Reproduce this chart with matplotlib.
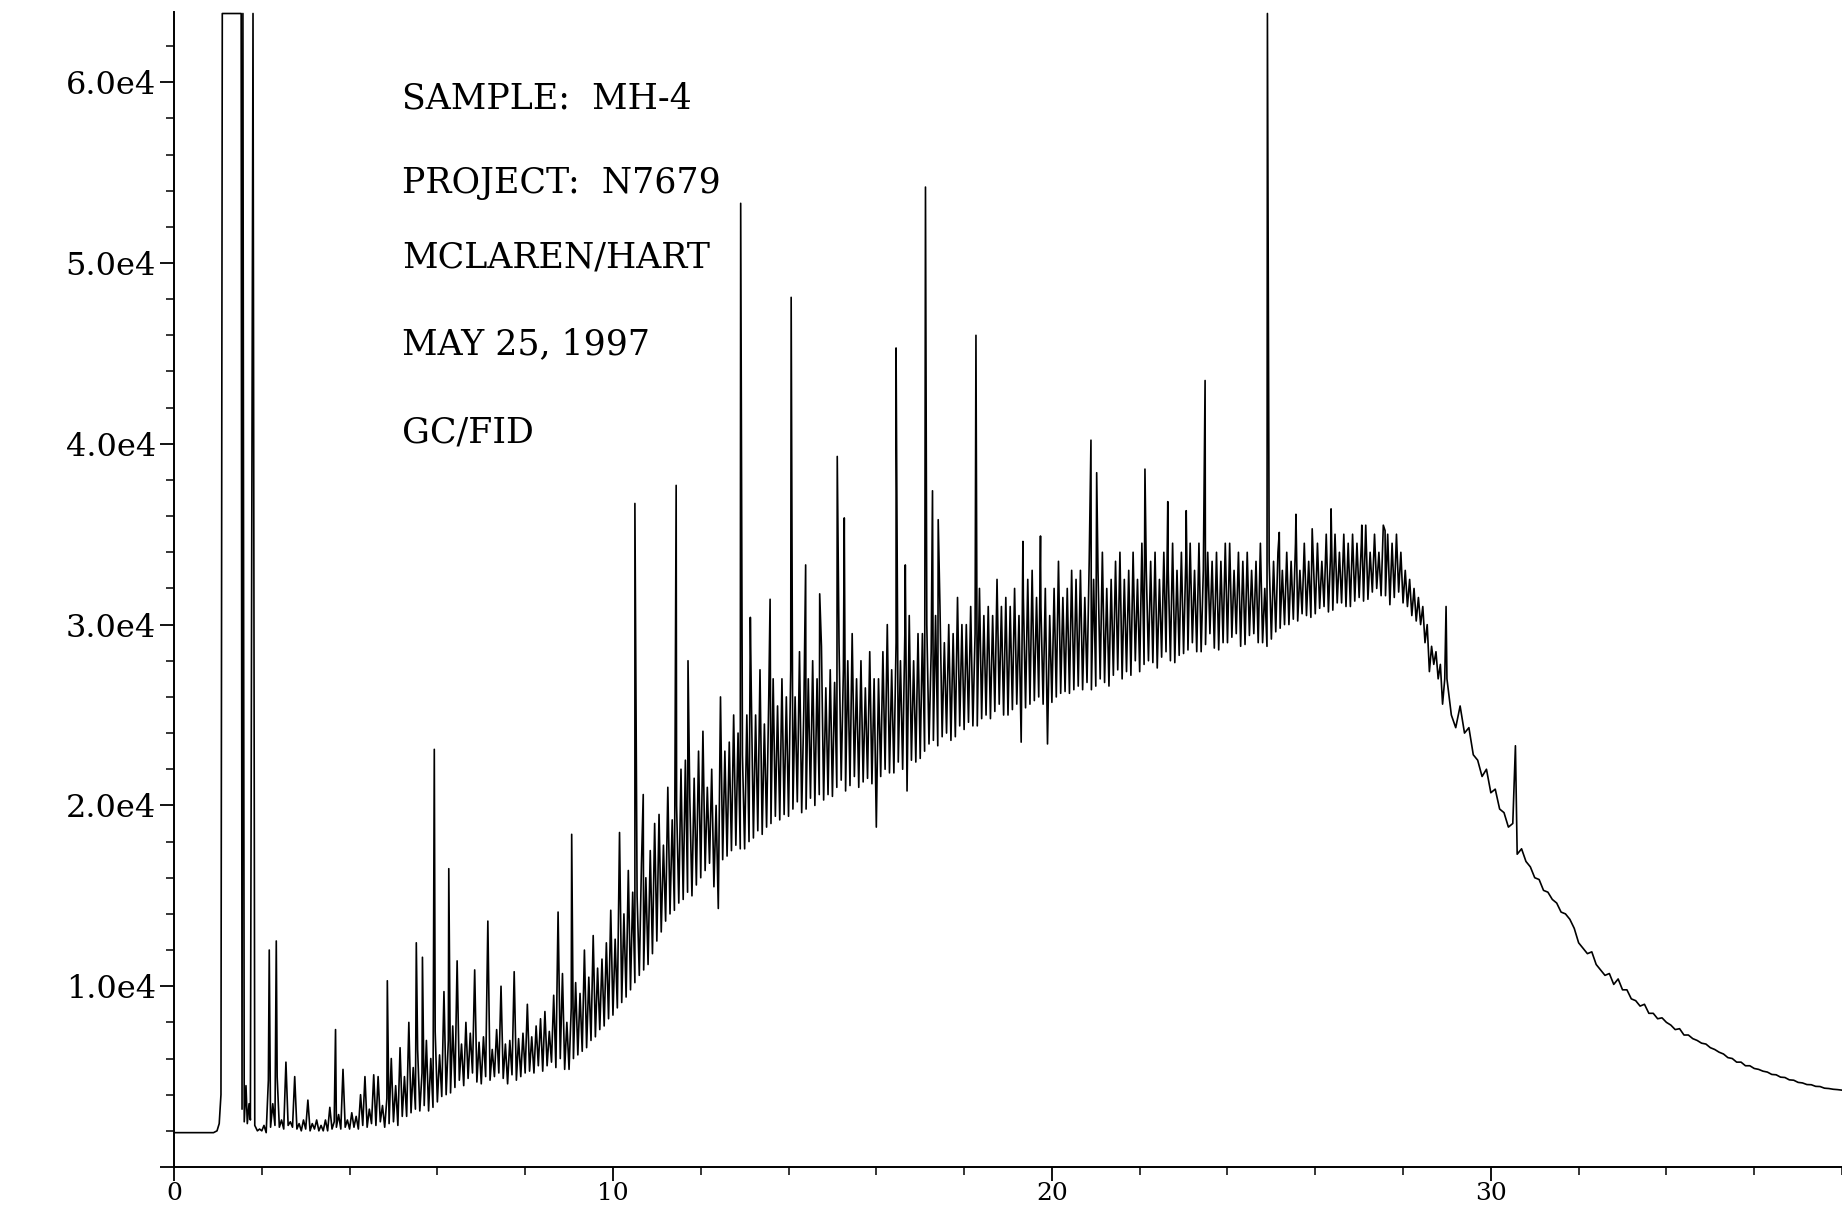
import numpy as np
import matplotlib
matplotlib.use('Agg')
import matplotlib.pyplot as plt
from matplotlib.ticker import MultipleLocator, FuncFormatter

# solvent front (minutes, response in 1000 counts)
solvent_t = [0.0, 0.90, 0.98, 1.03, 1.07, 1.10, 1.53, 1.55, 1.57, 1.60,
             1.64, 1.67, 1.71, 1.74, 1.80, 1.84]
solvent_y = [1.9, 1.9, 2.0, 2.4, 4.0, 63.8, 63.8, 3.2, 63.8, 2.5,
             4.5, 2.4, 3.5, 2.6, 63.8, 2.3]

# busy part of the trace, 1.9 - 28.95 min:
# valley readings at 1.9, 2.0, 2.1 ... and crest readings at 1.95, 2.05, ...
grid_start = 1.9
grid_step = 0.1
valley_y = [
    2.0,
    2.0, 1.9, 2.2, 2.3, 2.2, 2.1, 2.3, 2.2, 2.1, 2.0,            # 2
    2.1, 2.0, 2.1, 2.0, 2.0, 2.0, 2.1, 2.2, 2.1, 2.2,            # 3
    2.1, 2.2, 2.1, 2.3, 2.2, 2.4, 2.3, 2.5, 2.2, 2.4,            # 4
    2.5, 2.3, 2.8, 2.8, 3.0, 3.2, 3.1, 3.4, 3.1, 3.3,            # 5
    3.6, 3.9, 4.0, 4.1, 4.4, 4.8, 4.5, 4.9, 5.2, 4.7,            # 6
    4.6, 5.0, 4.8, 5.0, 5.2, 4.9, 4.6, 5.1, 4.8, 5.0,            # 7
    5.2, 5.3, 5.2, 5.6, 5.3, 5.6, 5.8, 5.5, 6.0, 5.4,            # 8
    5.4, 6.0, 6.2, 6.4, 6.6, 7.0, 7.2, 7.6, 7.8, 8.2,            # 9
    8.4, 8.8, 9.1, 9.4, 9.8, 10.2, 10.6, 10.9, 11.2, 11.8,       # 10
    12.5, 13.0, 13.6, 14.0, 14.2, 14.6, 14.8, 15.2, 15.0, 15.6,  # 11
    16.0, 16.4, 16.8, 15.5, 14.3, 17.0, 17.2, 17.5, 17.8, 17.6,  # 12
    17.6, 18.0, 18.2, 18.6, 18.4, 18.8, 19.0, 19.4, 19.2, 19.5,  # 13
    19.4, 19.8, 20.2, 19.6, 19.8, 20.4, 20.0, 20.6, 20.3, 20.6,  # 14
    20.5, 21.0, 21.4, 20.8, 21.1, 21.6, 21.0, 21.3, 21.5, 21.2,  # 15
    18.8, 21.6, 22.0, 21.8, 21.8, 22.4, 22.0, 20.8, 22.5, 22.4,  # 16
    22.6, 23.0, 23.4, 23.6, 23.3, 23.8, 24.0, 23.6, 23.8, 24.4,  # 17
    24.2, 24.6, 24.4, 24.4, 24.8, 25.0, 24.8, 25.2, 25.6, 25.0,  # 18
    25.0, 25.3, 25.6, 23.5, 25.4, 25.6, 25.8, 26.0, 25.6, 23.4,  # 19
    25.7, 26.0, 26.2, 26.3, 26.2, 26.4, 26.6, 26.4, 26.8, 26.4,  # 20
    26.6, 27.0, 26.8, 26.6, 27.2, 27.5, 27.0, 27.4, 27.2, 28.0,  # 21
    27.4, 27.8, 28.0, 27.9, 27.6, 28.2, 28.5, 28.0, 27.9, 28.3,  # 22
    28.4, 28.6, 29.0, 28.5, 28.5, 28.9, 29.5, 28.7, 28.6, 29.0,  # 23
    29.0, 29.3, 29.5, 28.8, 28.9, 29.4, 29.5, 29.0, 29.0, 28.8,  # 24
    29.2, 29.6, 29.8, 30.0, 30.0, 30.3, 30.2, 30.6, 30.5, 30.4,  # 25
    30.6, 30.9, 31.0, 30.7, 30.8, 31.2, 31.2, 31.0, 31.0, 31.3,  # 26
    31.5, 31.3, 31.4, 31.8, 32.0, 31.6, 31.6, 31.1, 31.5, 31.8,  # 27
    31.2, 31.0, 30.5, 30.2, 30.0, 29.0, 27.4, 27.8, 27.0, 25.6,  # 28
]
crest_y = [
    2.1,
    2.3, 4.8, 3.5, 5.0, 2.6, 5.8, 2.5, 5.0, 2.4, 2.6,            # 2
    3.7, 2.4, 2.6, 2.3, 2.6, 3.3, 2.5, 2.9, 5.4, 2.6,            # 3
    3.0, 2.8, 4.0, 5.0, 3.2, 5.1, 5.0, 3.4, 3.8, 6.0,            # 4
    4.5, 6.6, 5.0, 8.0, 5.5, 6.5, 5.2, 7.0, 6.0, 7.5,            # 5
    6.2, 9.7, 7.0, 7.8, 11.4, 6.8, 8.0, 7.4, 10.9, 6.9,          # 6
    7.2, 13.6, 6.5, 7.6, 10.0, 6.8, 7.0, 10.8, 7.1, 7.4,         # 7
    9.0, 7.2, 7.8, 8.2, 8.6, 7.5, 9.5, 14.1, 10.7, 8.0,          # 8
    8.8, 10.2, 9.6, 12.0, 10.5, 12.8, 11.0, 11.5, 12.4, 14.2,    # 9
    12.6, 18.5, 14.0, 16.4, 15.2, 15.0, 16.8, 16.0, 17.5, 19.0,  # 10
    19.5, 17.8, 21.0, 19.2, 20.0, 22.0, 22.5, 20.5, 21.5, 23.0,  # 11
    24.1, 21.0, 22.0, 20.0, 26.0, 23.0, 23.5, 25.0, 24.0, 22.8,  # 12
    25.0, 26.5, 25.0, 27.5, 24.5, 26.0, 27.0, 25.5, 27.0, 26.0,  # 13
    27.5, 26.0, 28.5, 25.5, 27.0, 28.0, 27.0, 28.8, 26.5, 27.5,  # 14
    26.8, 29.0, 27.5, 28.0, 29.5, 27.0, 28.0, 26.5, 28.5, 27.0,  # 15
    27.0, 28.5, 30.0, 27.5, 29.0, 28.0, 29.5, 30.5, 28.0, 29.5,  # 16
    29.5, 30.0, 28.5, 30.5, 31.0, 29.0, 30.0, 29.5, 31.5, 30.0,  # 17
    30.0, 31.0, 29.5, 32.0, 30.5, 31.0, 30.5, 32.5, 31.0, 31.5,  # 18
    31.0, 32.0, 30.5, 31.5, 32.5, 33.0, 31.5, 31.0, 32.0, 30.5,  # 19
    32.0, 33.5, 31.5, 32.0, 33.0, 32.5, 33.0, 31.5, 33.5, 32.5,  # 20
    33.0, 34.0, 32.0, 32.5, 33.5, 34.0, 32.5, 33.0, 34.0, 32.5,  # 21
    34.5, 33.0, 33.5, 34.0, 32.5, 34.0, 33.0, 34.5, 33.0, 34.0,  # 22
    33.5, 34.5, 33.0, 34.5, 33.0, 34.0, 33.5, 34.0, 33.5, 34.5,  # 23
    34.5, 33.0, 34.0, 33.5, 34.0, 33.0, 33.5, 34.5, 32.0, 33.5,  # 24
    33.5, 34.0, 33.0, 34.0, 33.5, 34.5, 33.0, 34.5, 33.5, 34.0,  # 25
    34.5, 33.5, 35.0, 34.0, 35.0, 34.0, 35.0, 34.5, 35.0, 34.5,  # 26
    34.5, 35.5, 34.0, 35.0, 34.0, 35.5, 35.0, 34.5, 35.0, 34.0,  # 27
    33.0, 32.5, 32.0, 31.5, 31.0, 30.0, 28.8, 28.5, 27.8, 27.0,  # 28
]

# falling tail, every 0.1 min from 29.0 to 38.0
tail_start = 29.0
tail_y = [
    27.0, 25.0, 24.3, 25.5, 24.0, 24.3, 22.8, 22.5, 21.6, 22.0,  # 29
    20.7, 20.9, 19.8, 19.6, 18.8, 19.0, 17.3, 17.6, 16.9, 16.6,  # 30
    16.0, 15.9, 15.3, 15.2, 14.8, 14.6, 14.1, 14.0, 13.7, 13.2,  # 31
    12.4, 12.1, 11.8, 11.9, 11.2, 10.9, 10.6, 10.7, 10.1, 10.4,  # 32
    9.8, 9.8, 9.3, 9.2, 8.9, 9.0, 8.5, 8.5, 8.2, 8.25,           # 33
    8.0, 7.85, 7.6, 7.65, 7.3, 7.3, 7.1, 7.0, 6.85, 6.8,         # 34
    6.6, 6.5, 6.35, 6.25, 6.05, 6.0, 5.8, 5.8, 5.6, 5.6,         # 35
    5.45, 5.4, 5.3, 5.25, 5.12, 5.1, 4.97, 4.95, 4.82, 4.8,      # 36
    4.68, 4.65, 4.56, 4.55, 4.46, 4.45, 4.36, 4.34, 4.3, 4.28,   # 37
    4.25,
]

# sharp peaks standing above the hump (minutes, 1000 counts)
spike_t = [2.17, 2.33, 3.68, 4.86, 5.52, 5.66, 5.93, 6.26, 9.06, 10.50,
           10.69, 11.44, 11.71, 12.91, 13.13, 13.58, 14.06, 14.39, 14.71, 15.11,
           15.27, 16.45, 16.66, 17.12, 17.28, 17.41, 18.27, 19.34, 19.74, 20.89,
           21.02, 22.12, 22.64, 23.06, 23.49, 24.91, 25.18, 25.56, 25.93, 26.36,
           27.06, 27.59, 28.98, 30.56]
spike_y = [12.0, 12.5, 7.6, 10.3, 12.4, 11.6, 23.1, 16.5, 18.4, 36.7,
           20.6, 37.7, 28.0, 53.3, 30.4, 31.4, 48.1, 33.3, 31.7, 39.3,
           35.9, 45.3, 33.3, 54.2, 37.4, 35.8, 46.0, 34.6, 34.9, 40.2,
           38.4, 38.6, 36.8, 36.3, 43.5, 63.8, 35.1, 36.1, 35.3, 36.4,
           35.5, 35.2, 31.0, 23.3]

header_lines = ['SAMPLE:  MH-4', 'PROJECT:  N7679', 'MCLAREN/HART',
                'MAY 25, 1997', 'GC/FID']

# build one polyline in time order
valley_t = grid_start + grid_step * np.arange(len(valley_y))
crest_t = grid_start + grid_step / 2 + grid_step * np.arange(len(crest_y))
tail_t = tail_start + grid_step * np.arange(len(tail_y))
t_all = np.concatenate([solvent_t, valley_t, crest_t, tail_t, spike_t])
y_all = np.concatenate([solvent_y, valley_y, crest_y, tail_y, spike_y]) * 1000
order = np.argsort(t_all, kind='stable')

W, H = 1842, 1211
fig = plt.figure(figsize=(W / 100, H / 100), dpi=100)
ax = fig.add_axes([174 / W, 1 - 1167 / H, 1 - 174 / W, (1167 - 11.7) / H])

ax.plot(t_all[order], y_all[order], color='black', lw=1.2)

ax.set_xlim(0, 38.0)
ax.set_ylim(0, 63900)

for s in ['top', 'right']:
    ax.spines[s].set_visible(False)
for s in ['left', 'bottom']:
    ax.spines[s].set_linewidth(1.4)

font = 'DejaVu Serif'
ax.xaxis.set_major_locator(MultipleLocator(10))
ax.xaxis.set_minor_locator(MultipleLocator(2))
ax.yaxis.set_major_locator(MultipleLocator(10000))
ax.yaxis.set_minor_locator(MultipleLocator(2000))
ax.yaxis.set_major_formatter(FuncFormatter(
    lambda v, p: '' if v == 0 else f'{v / 1e4:.1f}e4'))
ax.tick_params(which='major', length=10, width=1.3, direction='out')
ax.tick_params(which='minor', length=6, width=1.1, direction='out')
ax.tick_params(axis='y', which='major', pad=3, labelsize=23)
ax.tick_params(axis='x', which='major', pad=1, labelsize=18)
for lab in ax.get_xticklabels() + ax.get_yticklabels():
    lab.set_fontfamily(font)

# header block, left aligned
header_y = [59100, 54400, 50300, 45500, 40600]
for txt, yy in zip(header_lines, header_y):
    ax.text(5.2, yy, txt, fontsize=25, family=font, va='center', ha='left')

fig.savefig('out.png', dpi=100)
